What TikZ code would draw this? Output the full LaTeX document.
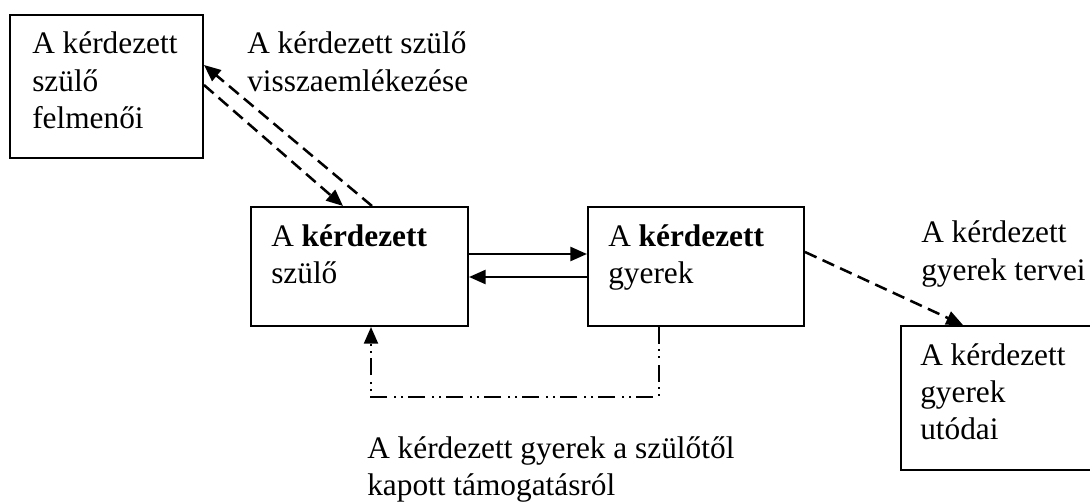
\documentclass[tikz,border=0pt]{standalone}
\usepackage{fontspec}
\setmainfont{Liberation Serif}
\usetikzlibrary{arrows.meta}
\newcommand\stacklines[1]{\vtop{\halign{##\hfil\cr#1\crcr}}}
\begin{document}
\begin{tikzpicture}[x=0.75pt,y=-0.75pt,
  box/.style={draw, line width=1.5pt, rectangle, inner sep=0pt, anchor=north west},
  txt/.style={inner sep=0pt, anchor=base west, font=\fontsize{23.5}{28.1}\selectfont},
  conn/.style={line width=1.9pt, -{Triangle[length=12.5pt,width=10.5pt]}},
  dsh/.style={conn, dash pattern=on 9.5pt off 5pt},
  ddot/.style={conn, line width=1.6pt, line join=miter, dash pattern=on 12.75pt off 3.75pt on 1.5pt off 3.75pt on 1.5pt off 5.25pt},
]
\useasboundingbox (0,0) rectangle (1090,503);

% boxes
\node[box, minimum width=144.75pt, minimum height=107.25pt] (tl) at (9,14) {};
\node[box, minimum width=162.75pt, minimum height=89.25pt] (ml) at (250,206) {};
\node[box, minimum width=162pt, minimum height=89.25pt] (mr) at (587,206) {};
\node[box, minimum width=150pt, minimum height=108pt] (br) at (900,325) {};

% texts
\node[txt] (tlt) at (32,54) {\stacklines{A kérdezett\cr szülő\cr felmenői}};
\node[txt] (lab1) at (247,54) {\stacklines{A kérdezett szülő\cr visszaemlékezése}};
\node[txt] (mlt) at (271,246) {\stacklines{A \textbf{kérdezett}\cr szülő}};
\node[txt] (mrt) at (608,246) {\stacklines{A \textbf{kérdezett}\cr gyerek}};
\node[txt] (lab2) at (921,243) {\stacklines{A kérdezett\cr gyerek tervei}};
\node[txt] (brt) at (920,365) {\stacklines{A kérdezett\cr gyerek\cr utódai}};
\node[txt] (lab3) at (367,458) {\stacklines{A kérdezett gyerek a szülőtől\cr kapott támogatásról}};

% connectors
\draw[dsh] (tl.east |- 0,85) -- (ml.north -| 343,0);
\draw[dsh] (ml.north -| 372,0) -- (tl.east |- 0,65);
\draw[conn] (ml.east |- 0,254) -- (mr.west |- 0,254);
\draw[conn] (mr.west |- 0,277) -- (ml.east |- 0,277);
\draw[dsh] (mr.east |- 0,252) -- (br.north -| 963,0);
\coordinate (dd) at (371,397);
\draw[ddot] (mr.south -| 659,0) |- (dd) -- (ml.south -| dd);
\end{tikzpicture}
\end{document}
